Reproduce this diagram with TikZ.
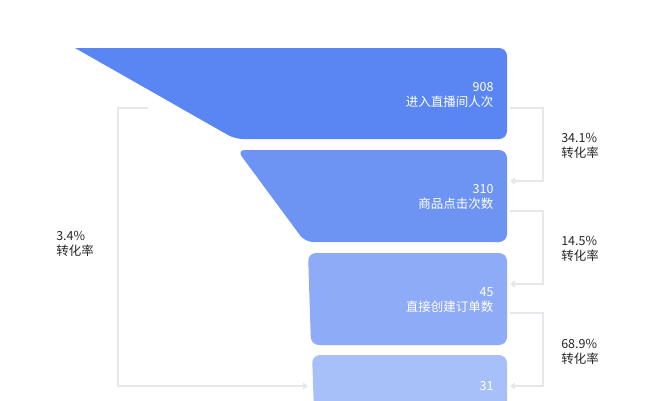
\documentclass[tikz,border=0pt]{standalone}
\usepackage{fontspec}
\setmainfont{Noto Sans CJK SC}
\usetikzlibrary{arrows.meta}
\definecolor{cA}{HTML}{5A86F4}
\definecolor{cB}{HTML}{6D94F3}
\definecolor{cC}{HTML}{8DABF6}
\definecolor{cD}{HTML}{A8C0F9}
\definecolor{br}{HTML}{E6E7EB}
\begin{document}
\begin{tikzpicture}[x=1pt,y=-1pt,
  lab/.style={text=white,font=\fontsize{12.5}{15}\selectfont,align=right,anchor=east},
  rate/.style={text=black!85,font=\fontsize{12.5}{15}\selectfont,align=left},
  brk/.style={draw=br,line width=2pt},
  arr/.style={brk,-{Triangle[length=5pt,width=7pt]}}]
\useasboundingbox (0,0) rectangle (664,400);
\fill[cA,rounded corners=8pt] (75,48) [sharp corners]-- (499,48) [rounded corners=8pt]-- (507,48) -- (507,139) -- (235,139) [sharp corners]-- cycle;
\fill[cA] (75,48) -- (110,48) -- (120,55) -- cycle;
\fill[cB,rounded corners=8pt] (237,150) -- (507,150) -- (507,242) -- (305,242) -- cycle;
\fill[cC,rounded corners=8pt] (308,253) -- (507,253) -- (507,345) -- (311,345) -- cycle;
\fill[cD,rounded corners=8pt] (312,355) -- (507,355) -- (507,410) -- (314,410) -- cycle;
\node[lab] (t1) at (497,95) {908\\进入直播间人次};
\node[lab] (t2) at (497,197) {310\\商品点击次数};
\node[lab] (t3) at (497,300) {45\\直接创建订单数};
\node[lab] (t4) at (497,393) {31\\\phantom{x}};
\coordinate (a1) at (510,108); \coordinate (b1) at (510,181);
\coordinate (a2) at (510,211); \coordinate (b2) at (510,284);
\coordinate (a3) at (510,313); \coordinate (b3) at (510,386);
\draw[arr] (a1) -- (543,108) -- (543,181) -- (b1);
\draw[arr] (a2) -- (543,211) -- (543,284) -- (b2);
\draw[arr] (a3) -- (543,313) -- (543,386) -- (b3);
\node[rate] (r1) at (580,146) {34.1\%\\转化率};
\node[rate] (r2) at (580,249) {14.5\%\\转化率};
\node[rate] (r3) at (580,352) {68.9\%\\转化率};
\coordinate (l0) at (148,108); \coordinate (l1) at (308,386);
\draw[arr] (l0) -- (118,108) -- (118,386) -- (l1);
\node[rate] (r0) at (75,244) {3.4\%\\转化率};
\end{tikzpicture}
\end{document}
